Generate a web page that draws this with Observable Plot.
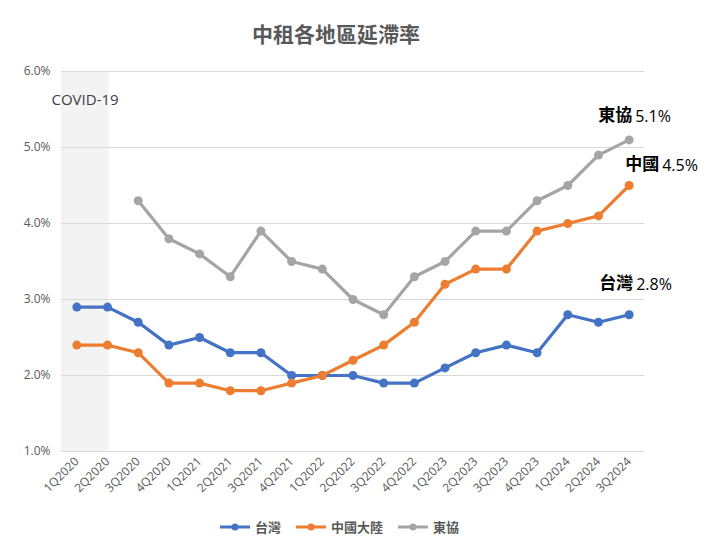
<!DOCTYPE html>
<html>
<head>
<meta charset="utf-8">
<script src="https://cdn.jsdelivr.net/npm/d3@7"></script>
<script src="https://cdn.jsdelivr.net/npm/@observablehq/plot@0.6"></script>
<style>
  body { margin: 0; background: #fff; font-family: "Noto Sans CJK TC", "Noto Sans", sans-serif; }
  #wrap { width: 720px; }
  #title { height: 50px; line-height: 50px; padding-top: 8px; box-sizing: border-box; text-align: center; font-size: 21px; font-weight: bold; color: #595959; margin-left: -48px; }
  #legend { display: flex; justify-content: center; gap: 14px; font-size: 13px; font-weight: bold; color: #595959; margin-left: -42px; margin-top: 11px; }
  #legend span.item { display: flex; align-items: center; gap: 4px; }
</style>
</head>
<body>
<div id="wrap">
  <div id="title">中租各地區延滯率</div>
  <div id="chart"></div>
  <div id="legend"></div>
</div>
<script>
const quarters = ["1Q2020","2Q2020","3Q2020","4Q2020","1Q2021","2Q2021","3Q2021","4Q2021","1Q2022","2Q2022","3Q2022","4Q2022","1Q2023","2Q2023","3Q2023","4Q2023","1Q2024","2Q2024","3Q2024"];
const taiwan = [2.9,2.9,2.7,2.4,2.5,2.3,2.3,2.0,2.0,2.0,1.9,1.9,2.1,2.3,2.4,2.3,2.8,2.7,2.8];
const china  = [2.4,2.4,2.3,1.9,1.9,1.8,1.8,1.9,2.0,2.2,2.4,2.7,3.2,3.4,3.4,3.9,4.0,4.1,4.5];
const asean  = [null,null,4.3,3.8,3.6,3.3,3.9,3.5,3.4,3.0,2.8,3.3,3.5,3.9,3.9,4.3,4.5,4.9,5.1];
const seriesNames = ["台灣","中國大陸","東協"];
const endLabelNames = ["台灣","中國","東協"];
const colors = ["#4472C4","#ED7D31","#A5A5A5"];
const yTicks = [1,2,3,4,5,6];
const covidQuarters = ["1Q2020","2Q2020"];
const covidLabel = "COVID-19";

const allSeries = [taiwan, china, asean];
const rows = [];
allSeries.forEach((arr, s) => arr.forEach((v, i) => {
  if (v != null) rows.push({series: seriesNames[s], i, q: quarters[i], v});
}));

const last = quarters.length - 1;
const ends = allSeries.map((arr, s) => ({series: seriesNames[s], name: endLabelNames[s], i: last, v: arr[last], label: arr[last].toFixed(1) + "%"}));
const endOffsets = {"台灣": {dx: 4, dy: -31}, "中國大陸": {dx: 30, dy: -21}, "東協": {dx: 3, dy: -24}};

const c0 = quarters.indexOf(covidQuarters[0]);
const c1 = quarters.indexOf(covidQuarters[covidQuarters.length - 1]);

const fontLatin = "'Open Sans', 'Noto Sans', sans-serif";

const marks = [
  Plot.rect([{x1: c0 - 0.5, x2: c1 + 0.05, y1: yTicks[0], y2: yTicks[yTicks.length-1]}], {x1: "x1", x2: "x2", y1: "y1", y2: "y2", fill: "#F3F3F3"}),
  Plot.gridY(yTicks, {stroke: "#D9D9D9", strokeOpacity: 1, strokeWidth: 1}),
  Plot.axisY(yTicks, {tickFormat: d => d.toFixed(1) + "%", tickSize: 0, tickPadding: 11, fontSize: 12, fill: "#595959", fontFamily: fontLatin}),
  Plot.axisX(d3.range(quarters.length), {tickFormat: i => quarters[i], tickRotate: -45, tickSize: 0, tickPadding: 8, fontSize: 12, fill: "#595959", fontFamily: fontLatin}),
  Plot.text([{x: c0 - 0.5, y: 5.62}], {x: "x", y: "y", text: () => covidLabel, textAnchor: "start", dx: -10, fontSize: 15, fill: "#404040", fontFamily: fontLatin})
];
seriesNames.forEach((name, s) => {
  const data = rows.filter(r => r.series === name);
  marks.push(Plot.line(data, {x: "i", y: "v", stroke: colors[s], strokeWidth: 3.2, curve: "linear"}));
  marks.push(Plot.dot(data, {x: "i", y: "v", fill: colors[s], r: 4.5}));
});
ends.forEach(e => {
  const o = endOffsets[e.series];
  marks.push(Plot.text([e], {x: "i", y: "v", text: "name", textAnchor: "end", dx: o.dx, dy: o.dy, fontSize: 17, fontWeight: "bold", fill: "#000", fontFamily: "'Noto Sans CJK TC', sans-serif"}));
  marks.push(Plot.text([e], {x: "i", y: "v", text: "label", textAnchor: "start", dx: o.dx + 3, dy: o.dy + 1, fontSize: 16, fill: "#000", fontFamily: fontLatin}));
});

const chart = Plot.plot({
  width: 720,
  height: 456,
  marginTop: 21,
  marginBottom: 55,
  marginLeft: 61,
  marginRight: 76,
  x: {type: "linear", domain: [-0.5, quarters.length - 0.5], axis: null},
  y: {domain: [yTicks[0], yTicks[yTicks.length-1]], axis: null},
  style: {background: "#fff", overflow: "visible"},
  marks
});
document.getElementById("chart").appendChild(chart);

const legend = document.getElementById("legend");
seriesNames.forEach((name, s) => {
  const item = document.createElement("span");
  item.className = "item";
  item.innerHTML = `<svg width="32" height="10"><line x1="1" y1="5" x2="31" y2="5" stroke="${colors[s]}" stroke-width="3"/><circle cx="16" cy="5" r="3.5" fill="${colors[s]}"/></svg><span>${name}</span>`;
  legend.appendChild(item);
});
</script>
</body>
</html>
